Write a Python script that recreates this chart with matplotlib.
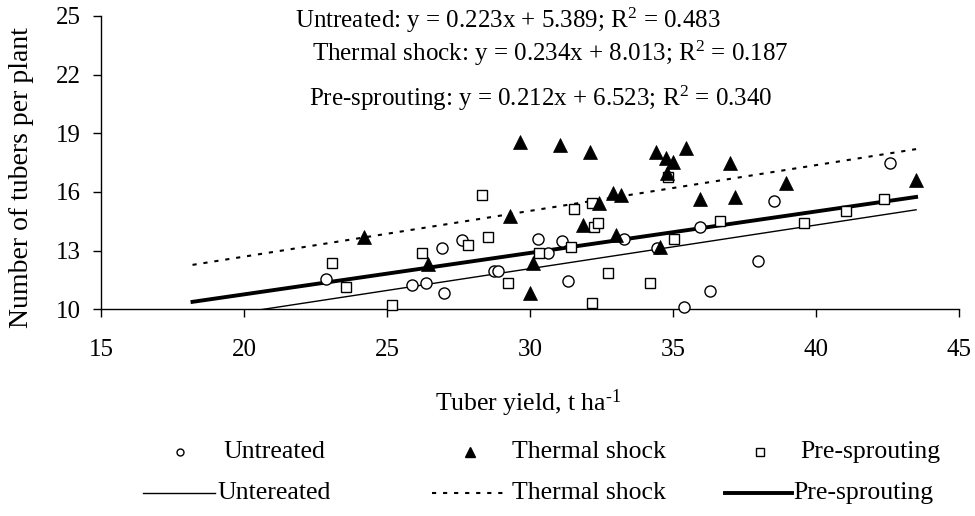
import matplotlib
matplotlib.use("Agg")
import matplotlib.pyplot as plt
from matplotlib.lines import Line2D
import numpy as np

plt.rcParams['font.family'] = ['Liberation Serif', 'DejaVu Serif']
plt.rcParams['mathtext.fontset'] = 'custom'
plt.rcParams['mathtext.rm'] = 'Liberation Serif'
plt.rcParams['mathtext.it'] = 'Liberation Serif:italic'
plt.rcParams['mathtext.bf'] = 'Liberation Serif:bold'

# ---------------- data ----------------
untreated_x = [22.87, 25.86, 26.36, 26.99, 26.91, 27.63, 28.75, 28.89, 30.29, 30.64,
               31.11, 31.34, 33.29, 34.43, 35.38, 35.94, 36.29, 37.98, 38.53, 42.59]
untreated_y = [11.57, 11.24, 11.36, 10.85, 13.12, 13.53, 11.97, 11.97, 13.58, 12.86,
               13.51, 11.45, 13.58, 13.12, 10.13, 14.19, 10.94, 12.49, 15.54, 17.50]

thermal_x = [24.20, 26.42, 29.30, 29.65, 30.00, 30.12, 31.05, 32.10, 31.86, 32.42,
             32.91, 33.17, 33.01, 34.55, 34.41, 34.76, 35.01, 35.45, 34.78, 35.94,
             36.99, 37.17, 38.95, 43.50]
thermal_y = [13.68, 12.32, 14.79, 18.57, 10.82, 12.35, 18.40, 18.06, 14.31, 15.42,
             15.93, 15.85, 13.80, 13.20, 18.06, 17.72, 17.55, 18.23, 16.96, 15.63,
             17.50, 15.73, 16.48, 16.61]

presprout_x = [23.09, 23.55, 25.16, 26.21, 27.82, 28.31, 28.52, 29.22, 30.33, 31.45,
               31.54, 32.16, 32.25, 32.39, 32.16, 32.74, 34.20, 34.84, 35.03, 36.64,
               39.58, 41.05, 42.38]
presprout_y = [12.38, 11.16, 10.22, 12.86, 13.29, 15.85, 13.68, 11.36, 12.86, 13.17,
               15.13, 15.45, 14.22, 14.43, 10.34, 11.87, 11.36, 16.78, 13.60, 14.53,
               14.43, 15.03, 15.64]

# trendlines (equations shown on the chart)
trend_x = [18.2, 43.5]
slopes = {'untreated': 0.223, 'thermal': 0.234, 'presprout': 0.212}
intercepts = {'untreated': 5.389, 'thermal': 8.013, 'presprout': 6.523}

eq_texts = [r'Untreated: y = 0.223x + 5.389; R$^{\mathrm{2}}$ = 0.483',
            r'Thermal shock: y = 0.234x + 8.013; R$^{\mathrm{2}}$ = 0.187',
            r'Pre-sprouting: y = 0.212x + 6.523; R$^{\mathrm{2}}$ = 0.340']

x_ticks = [15, 20, 25, 30, 35, 40, 45]
y_ticks = [10, 13, 16, 19, 22, 25]

W, H = 975, 516
fig = plt.figure(figsize=(W / 100, H / 100), dpi=100)

def fx(px):
    return px / W

def fy(py):
    return 1 - py / H

ax = fig.add_axes([fx(101), fy(309.3), fx(959) - fx(101), fy(16) - fy(309.3)])
ax.set_xlim(15, 45)
ax.set_ylim(10, 25)
ax.set_xticks(x_ticks)
ax.set_yticks(y_ticks)
for s in ['top', 'right']:
    ax.spines[s].set_visible(False)
for s in ['left', 'bottom']:
    ax.spines[s].set_linewidth(1.0)
ax.tick_params(axis='both', direction='out', length=5.5, width=1.0, labelsize=18)
ax.tick_params(axis='x', pad=16)
ax.tick_params(axis='y', pad=9)

tx = np.array(trend_x)
ax.plot(tx, slopes['untreated'] * tx + intercepts['untreated'], color='black', lw=1.0, zorder=2)
ax.plot(tx, slopes['thermal'] * tx + intercepts['thermal'], color='black', lw=1.5,
        linestyle=(0, (2.0, 3.3)), zorder=2)
ax.plot(tx, slopes['presprout'] * tx + intercepts['presprout'], color='black', lw=2.8, zorder=2)

ax.plot(untreated_x, untreated_y, linestyle='none', marker='o', ms=8, mfc='white',
        mec='black', mew=1.0, zorder=3, clip_on=False)
ax.plot(presprout_x, presprout_y, linestyle='none', marker='s', ms=7.5, mfc='white',
        mec='black', mew=1.0, zorder=3, clip_on=False)
ax.plot(thermal_x, thermal_y, linestyle='none', marker='^', ms=9.5, mfc='black',
        mec='black', mew=0.5, zorder=4, clip_on=False)

# equation annotations
fig.text(fx(508), fy(20), eq_texts[0], ha='center', va='center', fontsize=18)
fig.text(fx(550), fy(53), eq_texts[1], ha='center', va='center', fontsize=18)
fig.text(fx(541), fy(98), eq_texts[2], ha='center', va='center', fontsize=18)

# axis labels
fig.text(fx(21.7), fy(178), 'Number of tubers per plant', rotation=90,
         ha='center', va='center', fontsize=20)
fig.text(fx(528), fy(403), r'Tuber yield, t ha$^{\text{-1}}$', ha='center',
         va='center', fontsize=18.5)

# legend (manual, in figure pixel space)
lax = fig.add_axes([0, 0, 1, 1], facecolor='none')
lax.set_xlim(0, W)
lax.set_ylim(H, 0)
lax.axis('off')
r1, r2 = 452, 493
lax.add_line(Line2D([180], [r1], marker='o', ms=5, mfc='white', mec='black', mew=1.0, ls='none'))
lax.add_line(Line2D([470], [r1], marker='^', ms=7, mfc='black', mec='black', ls='none'))
lax.add_line(Line2D([760], [r1], marker='s', ms=5.5, mfc='white', mec='black', mew=1.0, ls='none'))
lax.add_line(Line2D([143, 215], [r2, r2], color='black', lw=1.0))
lax.add_line(Line2D([432, 505], [r2, r2], color='black', lw=1.5, linestyle=(0, (2.0, 3.3))))
lax.add_line(Line2D([725, 792], [r2, r2], color='black', lw=2.8))
leg_fs = 18.5
lax.text(223, r1, 'Untreated', ha='left', va='center', fontsize=leg_fs)
lax.text(512, r1, 'Thermal shock', ha='left', va='center', fontsize=leg_fs)
lax.text(800, r1, 'Pre-sprouting', ha='left', va='center', fontsize=leg_fs)
lax.text(217, r2, 'Untereated', ha='left', va='center', fontsize=leg_fs)
lax.text(512, r2, 'Thermal shock', ha='left', va='center', fontsize=leg_fs)
lax.text(793, r2, 'Pre-sprouting', ha='left', va='center', fontsize=leg_fs)

fig.savefig('out.png', dpi=100)
